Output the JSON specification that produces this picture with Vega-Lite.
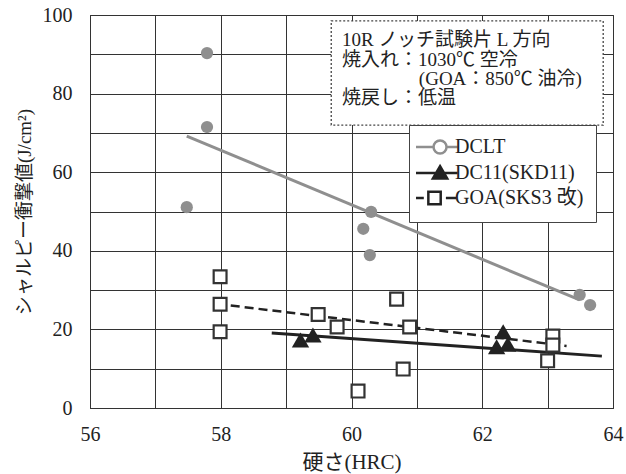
{
  "$schema": "https://vega.github.io/schema/vega-lite/v6.json",
  "width": 523,
  "height": 393,
  "autosize": {"type": "none"},
  "padding": {"left": 90, "top": 15, "right": 13, "bottom": 66},
  "background": "white",
  "config": {
    "view": {"stroke": "#333", "strokeWidth": 1},
    "font": "Liberation Serif, Noto Sans CJK JP"
  },
  "data": {
    "values": [
      {"series": "DCLT", "kind": "obs", "x": 57.79, "y": 90.3},
      {"series": "DCLT", "kind": "obs", "x": 57.79, "y": 71.5},
      {"series": "DCLT", "kind": "obs", "x": 57.48, "y": 51.1},
      {"series": "DCLT", "kind": "obs", "x": 60.30, "y": 49.9},
      {"series": "DCLT", "kind": "obs", "x": 60.18, "y": 45.6},
      {"series": "DCLT", "kind": "obs", "x": 60.28, "y": 38.9},
      {"series": "DCLT", "kind": "obs", "x": 63.49, "y": 28.8},
      {"series": "DCLT", "kind": "obs", "x": 63.65, "y": 26.2},
      {"series": "DCLT", "kind": "fit", "x": 57.48, "y": 69.2},
      {"series": "DCLT", "kind": "fit", "x": 63.49, "y": 27.5},
      {"series": "DC11(SKD11)", "kind": "obs", "x": 59.22, "y": 17.3},
      {"series": "DC11(SKD11)", "kind": "obs", "x": 59.41, "y": 18.6},
      {"series": "DC11(SKD11)", "kind": "obs", "x": 62.32, "y": 19.4},
      {"series": "DC11(SKD11)", "kind": "obs", "x": 62.22, "y": 15.6},
      {"series": "DC11(SKD11)", "kind": "obs", "x": 62.39, "y": 16.2},
      {"series": "DC11(SKD11)", "kind": "fit", "x": 58.78, "y": 19.1},
      {"series": "DC11(SKD11)", "kind": "fit", "x": 63.83, "y": 13.2},
      {"series": "GOA(SKS3 改)", "kind": "obs", "x": 57.99, "y": 33.4},
      {"series": "GOA(SKS3 改)", "kind": "obs", "x": 57.99, "y": 26.4},
      {"series": "GOA(SKS3 改)", "kind": "obs", "x": 57.99, "y": 19.4},
      {"series": "GOA(SKS3 改)", "kind": "obs", "x": 59.49, "y": 23.8},
      {"series": "GOA(SKS3 改)", "kind": "obs", "x": 59.78, "y": 20.6},
      {"series": "GOA(SKS3 改)", "kind": "obs", "x": 60.69, "y": 27.7},
      {"series": "GOA(SKS3 改)", "kind": "obs", "x": 60.89, "y": 20.6},
      {"series": "GOA(SKS3 改)", "kind": "obs", "x": 60.79, "y": 9.9},
      {"series": "GOA(SKS3 改)", "kind": "obs", "x": 60.10, "y": 4.3},
      {"series": "GOA(SKS3 改)", "kind": "obs", "x": 63.08, "y": 18.3},
      {"series": "GOA(SKS3 改)", "kind": "obs", "x": 63.08, "y": 16.0},
      {"series": "GOA(SKS3 改)", "kind": "obs", "x": 63.00, "y": 12.0},
      {"series": "GOA(SKS3 改)", "kind": "fit", "x": 57.94, "y": 26.5},
      {"series": "GOA(SKS3 改)", "kind": "fit", "x": 63.29, "y": 15.8}
    ]
  },
  "encoding": {
    "x": {
      "field": "x", "type": "quantitative",
      "scale": {"domain": [56, 64], "nice": false},
      "axis": {
        "values": [56, 57, 58, 59, 60, 61, 62, 63, 64],
        "labelExpr": "datum.value % 2 == 0 ? datum.label : ''",
        "grid": true, "gridColor": "#333", "gridWidth": 1, "gridOpacity": 1,
        "ticks": false, "domainColor": "#333",
        "labelFontSize": 20, "labelColor": "#222", "labelPadding": 16,
        "labelFlush": false, "labelOverlap": false,
        "title": "硬さ(HRC)", "titleFontSize": 21, "titleFontWeight": "normal",
        "titleColor": "#222", "titlePadding": 7
      }
    },
    "y": {
      "field": "y", "type": "quantitative",
      "scale": {"domain": [0, 100], "nice": false},
      "axis": {
        "values": [0, 10, 20, 30, 40, 50, 60, 70, 80, 90, 100],
        "labelExpr": "datum.value % 20 == 0 ? datum.label : ''",
        "grid": true, "gridColor": "#333", "gridWidth": 1, "gridOpacity": 1,
        "ticks": false, "domainColor": "#333",
        "labelFontSize": 20, "labelColor": "#222", "labelPadding": 18,
        "labelFlush": false, "labelOverlap": false,
        "title": "シャルピー衝撃値(J/cm²)", "titleFontSize": 19, "titleFontWeight": "normal",
        "titleColor": "#222", "titlePadding": 8
      }
    }
  },
  "layer": [
    {
      "transform": [{"filter": "datum.series == 'DCLT' && datum.kind == 'fit' && datum.x < 58"}],
      "mark": {"type": "rect", "fill": "white", "stroke": "#444", "strokeWidth": 1.3, "strokeDash": [2, 2]},
      "encoding": {
        "x": {"datum": 59.69, "type": "quantitative"},
        "x2": {"datum": 63.85},
        "y": {"datum": 98.5, "type": "quantitative"},
        "y2": {"datum": 72.0}
      }
    },
    {
      "transform": [{"filter": "datum.series == 'DCLT' && datum.kind == 'fit' && datum.x < 58"}],
      "mark": {"type": "text", "text": "10R ノッチ試験片 L 方向", "align": "left", "baseline": "middle", "fontSize": 19, "fontWeight": "normal", "fill": "#222", "font": "Liberation Serif, Noto Sans CJK JP"},
      "encoding": {"x": {"datum": 59.855, "type": "quantitative"}, "y": {"datum": 93.64, "type": "quantitative"}}
    },
    {
      "transform": [{"filter": "datum.series == 'DCLT' && datum.kind == 'fit' && datum.x < 58"}],
      "mark": {"type": "text", "text": "焼入れ：1030℃ 空冷", "align": "left", "baseline": "middle", "fontSize": 19, "fontWeight": "normal", "fill": "#222", "font": "Liberation Serif, Noto Sans CJK JP"},
      "encoding": {"x": {"datum": 59.855, "type": "quantitative"}, "y": {"datum": 88.55, "type": "quantitative"}}
    },
    {
      "transform": [{"filter": "datum.series == 'DCLT' && datum.kind == 'fit' && datum.x < 58"}],
      "mark": {"type": "text", "text": "(GOA：850℃ 油冷)", "align": "left", "baseline": "middle", "fontSize": 19, "fontWeight": "normal", "fill": "#222", "font": "Liberation Serif, Noto Sans CJK JP"},
      "encoding": {"x": {"datum": 61.03, "type": "quantitative"}, "y": {"datum": 83.72, "type": "quantitative"}}
    },
    {
      "transform": [{"filter": "datum.series == 'DCLT' && datum.kind == 'fit' && datum.x < 58"}],
      "mark": {"type": "text", "text": "焼戻し：低温", "align": "left", "baseline": "middle", "fontSize": 19, "fontWeight": "normal", "fill": "#222", "font": "Liberation Serif, Noto Sans CJK JP"},
      "encoding": {"x": {"datum": 59.855, "type": "quantitative"}, "y": {"datum": 78.88, "type": "quantitative"}}
    },
    {
      "transform": [{"filter": "datum.series == 'DCLT' && datum.kind == 'fit'"}],
      "mark": {"type": "line", "color": "#8f8f8f", "strokeWidth": 3}
    },
    {
      "transform": [{"filter": "datum.series == 'DC11(SKD11)' && datum.kind == 'fit'"}],
      "mark": {"type": "line", "color": "#222", "strokeWidth": 3}
    },
    {
      "transform": [{"filter": "datum.series == 'GOA(SKS3 改)' && datum.kind == 'fit'"}],
      "mark": {"type": "line", "color": "#222", "strokeWidth": 2.5, "strokeDash": [9, 5]}
    },
    {
      "transform": [{"filter": "datum.series == 'DCLT' && datum.kind == 'obs'"}],
      "mark": {"type": "circle", "size": 150, "color": "#8f8f8f", "opacity": 1}
    },
    {
      "transform": [{"filter": "datum.series == 'DC11(SKD11)' && datum.kind == 'obs'"}],
      "mark": {"type": "point", "shape": "triangle-up", "filled": true, "size": 300, "color": "#222", "opacity": 1}
    },
    {
      "transform": [{"filter": "datum.series == 'GOA(SKS3 改)' && datum.kind == 'obs'"}],
      "mark": {"type": "point", "shape": "square", "filled": false, "fill": "white", "size": 165, "stroke": "#333", "strokeWidth": 2.2, "opacity": 1}
    },
    {
      "transform": [{"filter": "false"}],
      "mark": {"type": "point", "filled": true, "opacity": 1, "strokeWidth": 2.5},
      "encoding": {
        "shape": {
          "field": "series", "type": "nominal",
          "scale": {
            "domain": ["DCLT", "DC11(SKD11)", "GOA(SKS3 改)"],
            "range": [
              "M0,0H2.7M4.7,0C4.7,0.5523,4.2523,1,3.7,1C3.1477,1,2.7,0.5523,2.7,0C2.7,-0.5523,3.1477,-1,3.7,-1C4.2523,-1,4.7,-0.5523,4.7,0ZM4.7,0H6.4",
              "M0,0H6.4M3.7,-1.05L4.8,0.85H2.6Z",
              "M0,0H1.2M1.9,-0.95H3.8V0.95H1.9ZM4.6,0H6.2"
            ]
          },
          "legend": {
            "orient": "none", "legendX": 319, "legendY": 110, "title": null,
            "padding": 12, "strokeColor": "#444", "fillColor": "white",
            "symbolSize": 169, "symbolStrokeWidth": 2.5, "symbolOffset": -15,
            "labelOffset": 29, "labelFontSize": 20, "labelColor": "#222",
            "labelFont": "Liberation Serif, Noto Sans CJK JP", "rowPadding": 2,
            "encode": {"legend": {"update": {"strokeDash": {"value": [2, 2]}, "strokeWidth": {"value": 1.3}}}}
          }
        },
        "fill": {
          "field": "series", "type": "nominal",
          "scale": {"domain": ["DCLT", "DC11(SKD11)", "GOA(SKS3 改)"], "range": ["white", "#222", "white"]},
          "legend": {
            "orient": "none", "legendX": 319, "legendY": 110, "title": null,
            "padding": 12, "strokeColor": "#444", "fillColor": "white",
            "symbolSize": 169, "symbolStrokeWidth": 2.5, "symbolOffset": -15,
            "labelOffset": 29, "labelFontSize": 20, "labelColor": "#222",
            "labelFont": "Liberation Serif, Noto Sans CJK JP", "rowPadding": 2,
            "encode": {"legend": {"update": {"strokeDash": {"value": [2, 2]}, "strokeWidth": {"value": 1.3}}}}
          }
        },
        "stroke": {
          "field": "series", "type": "nominal",
          "scale": {"domain": ["DCLT", "DC11(SKD11)", "GOA(SKS3 改)"], "range": ["#8f8f8f", "#222", "#222"]},
          "legend": {
            "orient": "none", "legendX": 319, "legendY": 110, "title": null,
            "padding": 12, "strokeColor": "#444", "fillColor": "white",
            "symbolSize": 169, "symbolStrokeWidth": 2.5, "symbolOffset": -15,
            "labelOffset": 29, "labelFontSize": 20, "labelColor": "#222",
            "labelFont": "Liberation Serif, Noto Sans CJK JP", "rowPadding": 2,
            "encode": {"legend": {"update": {"strokeDash": {"value": [2, 2]}, "strokeWidth": {"value": 1.3}}}}
          }
        }
      }
    }
  ]
}
